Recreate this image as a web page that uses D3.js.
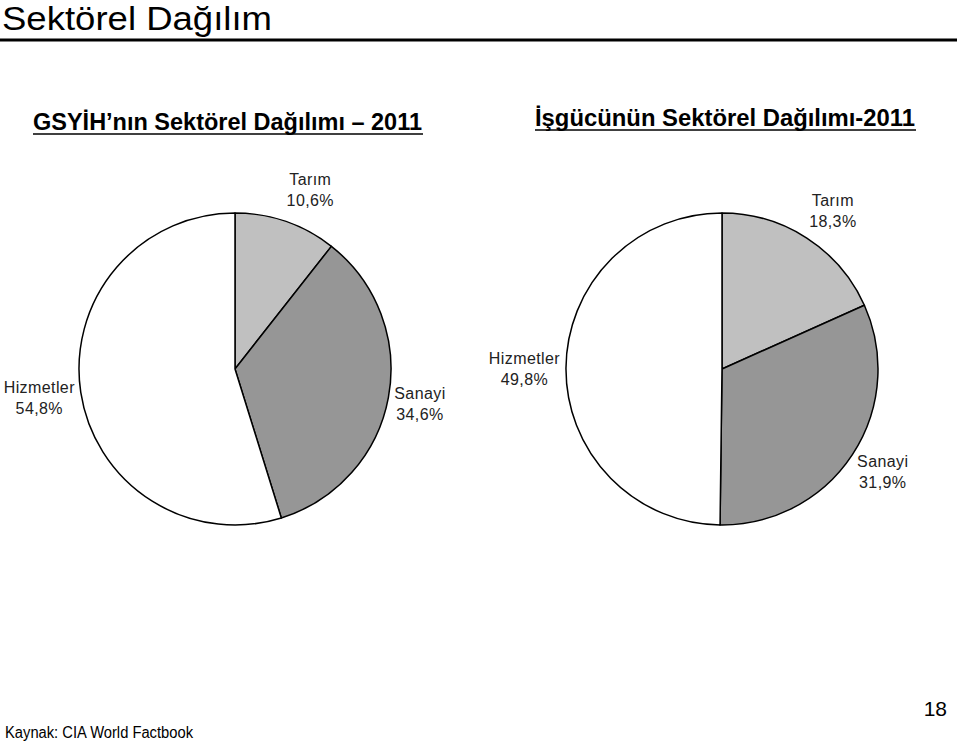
<!DOCTYPE html>
<html lang="tr">
<head>
<meta charset="UTF-8">
<title>Sektörel Dağılım</title>
<style>
  body { margin: 0; background: #fff; }
  svg text { font-family: "Liberation Sans", Arial, sans-serif; }
</style>
</head>
<body>
<div id="chart"></div>
<script src="https://d3js.org/d3.v7.min.js"></script>
<script>
// sectors and values (%)
var sectors = ["Tarım", "Sanayi", "Hizmetler"];
var gdpShare = [10.6, 34.6, 54.8];
var labourShare = [18.3, 31.9, 49.8];
var gdpTitle = "GSYİH’nın Sektörel Dağılımı – 2011";
var labourTitle = "İşgücünün Sektörel Dağılımı-2011";

var width = 960, height = 742;
var svg = d3.select('#chart').append('svg')
    .attr('width', width)
    .attr('height', height);

// page header
svg.append('text')
    .attr('x', 2).attr('y', 30)
    .attr('textLength', 270)
    .attr('lengthAdjust', 'spacingAndGlyphs')
    .style('font-size', '33px')
    .attr('fill', '#000')
    .text('Sektörel Dağılım');
svg.append('line')
    .attr('x1', 0).attr('x2', 957)
    .attr('y1', 40).attr('y2', 40)
    .attr('stroke', '#000').attr('stroke-width', 3);

var color = d3.scaleOrdinal()
    .domain(sectors)
    .range(["#c0c0c0", "#969696", "#ffffff"]);

var fmt = function(v) { return v.toFixed(1).replace('.', ',') + '%'; };

function drawPie(values, cx, cy, r, title, tx, tw, ty) {
    // subtitle, underlined
    svg.append('text')
        .attr('x', tx).attr('y', ty)
        .attr('textLength', tw)
        .attr('lengthAdjust', 'spacingAndGlyphs')
        .style('font-size', '23px')
        .style('font-weight', 'bold')
        .text(title);
    svg.append('line')
        .attr('x1', tx).attr('x2', tx + tw + 1)
        .attr('y1', ty + 4).attr('y2', ty + 4)
        .attr('stroke', '#000').attr('stroke-width', 1.5);

    var data = sectors.map(function(s, i) { return {name: s, value: values[i]}; });
    var pie = d3.pie().sort(null).value(function(d) { return d.value; });
    var arc = d3.arc().innerRadius(0).outerRadius(r);
    var labelArc = d3.arc().innerRadius(r + 8).outerRadius(r + 8);

    var g = svg.append('g').attr('transform', 'translate(' + cx + ',' + cy + ')');
    var arcs = pie(data);

    g.selectAll('path')
        .data(arcs)
        .enter().append('path')
        .attr('d', arc)
        .attr('fill', function(d) { return color(d.data.name); })
        .attr('stroke', '#000')
        .attr('stroke-width', 1.5)
        .attr('stroke-linejoin', 'round');

    var labels = g.selectAll('g.lbl')
        .data(arcs)
        .enter().append('g')
        .attr('class', 'lbl');

    labels.each(function(d) {
        var lg = d3.select(this);
        var a = (d.startAngle + d.endAngle) / 2;
        var p = labelArc.centroid(d);
        var n = lg.append('text')
            .attr('text-anchor', 'middle')
            .attr('y', -4)
            .style('font-size', '16px')
            .style('letter-spacing', '0.4px')
            .attr('fill', '#222')
            .text(d.data.name);
        var v = lg.append('text')
            .attr('text-anchor', 'middle')
            .attr('y', 17)
            .style('font-size', '16px')
            .style('letter-spacing', '0.4px')
            .attr('fill', '#222')
            .text(fmt(d.data.value));
        var w = Math.max(n.node().getComputedTextLength(), v.node().getComputedTextLength());
        var sx = Math.sin(a) >= 0 ? 1 : -1;
        var x = p[0] + sx * (w / 2 - 2);
        var y = p[1] - (Math.cos(a) > 0 ? 26 : 21) * Math.cos(a);
        lg.attr('transform', 'translate(' + x + ',' + y + ')');
    });
}

drawPie(gdpShare, 235, 369, 156, gdpTitle, 33, 389, 130);
drawPie(labourShare, 722, 369, 156, labourTitle, 535, 380, 126);

// footer
svg.append('text')
    .attr('x', 5).attr('y', 738)
    .attr('textLength', 188)
    .attr('lengthAdjust', 'spacingAndGlyphs')
    .style('font-size', '16px')
    .text('Kaynak: CIA World Factbook');
svg.append('text')
    .attr('x', 947).attr('y', 716)
    .attr('text-anchor', 'end')
    .style('font-size', '21px')
    .text('18');
</script>
</body>
</html>
